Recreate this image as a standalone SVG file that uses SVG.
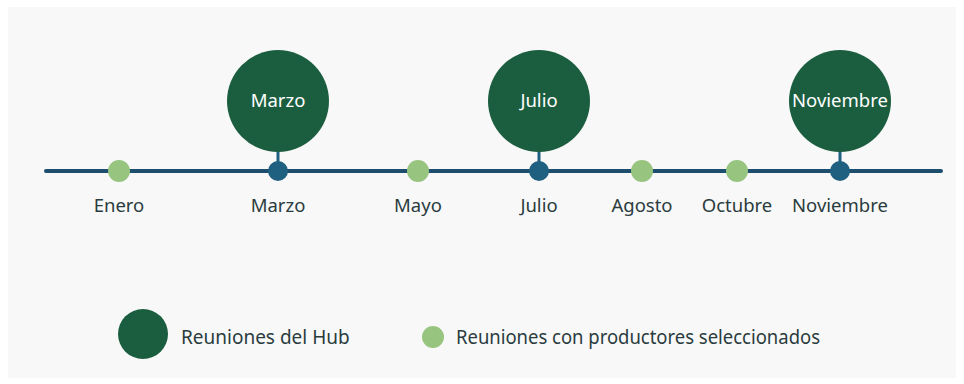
<svg xmlns="http://www.w3.org/2000/svg" width="964" height="384" viewBox="0 0 964 384">
<style>
.lbl{font-family:"Noto Sans","Open Sans",sans-serif;font-size:18.5px;fill:#2a3c3e;text-anchor:middle}
.in{font-family:"Noto Sans","Open Sans",sans-serif;font-size:18.5px;fill:#ffffff;text-anchor:middle}
.leg{font-family:"Noto Sans","Open Sans",sans-serif;font-size:19px;fill:#2a3c3e}
.hub{fill:#1b5e3f}
.sel{fill:#97c47f}
.dot{fill:#1f5f80}
.stem{stroke:#1f5f80;stroke-width:3}
</style>
<rect width="964" height="384" fill="#ffffff"/>
<rect x="8" y="7" width="948" height="371" fill="#f8f8f8"/>
<g id="connectors">
<line x1="46" y1="171" x2="941" y2="171" stroke="#1d4e6e" stroke-width="4" stroke-linecap="round"/>
<line class="stem" x1="278" y1="150" x2="278" y2="162"/>
<line class="stem" x1="539" y1="150" x2="539" y2="162"/>
<line class="stem" x1="840" y1="150" x2="840" y2="162"/>
</g>
<g id="enero"><circle class="sel" cx="119" cy="171" r="11"/><text class="lbl" x="119" y="212">Enero</text></g>
<g id="marzo"><circle class="hub" cx="278" cy="101" r="51"/><text class="in" x="278" y="107">Marzo</text><circle class="dot" cx="278" cy="171" r="10"/><text class="lbl" x="278" y="212">Marzo</text></g>
<g id="mayo"><circle class="sel" cx="418" cy="171" r="11"/><text class="lbl" x="418" y="212">Mayo</text></g>
<g id="julio"><circle class="hub" cx="539" cy="101" r="51"/><text class="in" x="539" y="107">Julio</text><circle class="dot" cx="539" cy="171" r="10"/><text class="lbl" x="539" y="212">Julio</text></g>
<g id="agosto"><circle class="sel" cx="642" cy="171" r="11"/><text class="lbl" x="642" y="212">Agosto</text></g>
<g id="octubre"><circle class="sel" cx="737" cy="171" r="11"/><text class="lbl" x="737" y="212">Octubre</text></g>
<g id="noviembre"><circle class="hub" cx="840" cy="101" r="51"/><text class="in" x="840" y="107">Noviembre</text><circle class="dot" cx="840" cy="171" r="10"/><text class="lbl" x="840" y="212">Noviembre</text></g>
<g id="legend-hub"><circle class="hub" cx="143" cy="334" r="25"/><text class="leg" x="181" y="344">Reuniones del Hub</text></g>
<g id="legend-sel"><circle class="sel" cx="433" cy="337" r="11"/><text class="leg" x="456" y="344" textLength="364" lengthAdjust="spacingAndGlyphs">Reuniones con productores seleccionados</text></g>
</svg>
